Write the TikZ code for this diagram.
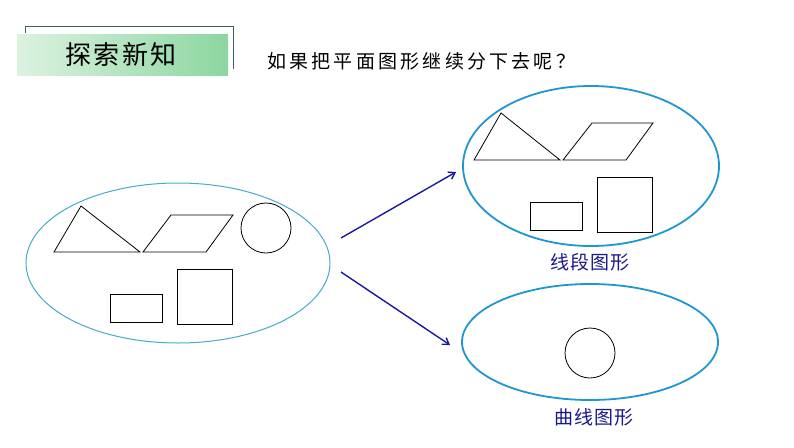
\documentclass[tikz,border=0pt]{standalone}
\usepackage{fontspec}
\setmainfont{Noto Sans CJK SC}
\usetikzlibrary{arrows.meta,shapes.geometric}
\definecolor{ellA}{RGB}{70,170,200}
\definecolor{ellB}{RGB}{30,150,210}
\definecolor{arrowblue}{RGB}{25,25,160}
\definecolor{labblue}{RGB}{25,25,140}
\definecolor{gLight}{RGB}{220,242,224}
\definecolor{gDark}{RGB}{140,214,160}
\definecolor{frameline}{RGB}{60,100,90}
\tikzset{
  figline/.style={draw=black, line width=0.8pt, line join=miter},
  ringA/.style={draw=ellA, line width=1pt},
  ringB/.style={draw=ellB, line width=1.8pt},
  conn/.style={draw=arrowblue, line width=1.4pt, -{Straight Barb[length=6pt,width=8pt]}},
  lab/.style={text=labblue, font=\fontsize{19}{19}\selectfont\addfontfeatures{LetterSpace=6}, inner sep=0pt},
}
\begin{document}
\begin{tikzpicture}[x=1pt,y=-1pt]
\useasboundingbox (0,0) rectangle (794,447);
% header
\draw[frameline, line width=0.9pt] (25,33) -- (25,26) -- (233,26) -- (233,69);
\shade[left color=gLight, right color=gDark] (17,34) rectangle (228,75);
\node[inner sep=0pt, font=\fontsize{26}{26}\selectfont\addfontfeatures{LetterSpace=8}] (title) at (121,55) {探索新知};
\node[inner sep=0pt, font=\fontsize{19}{19}\selectfont\addfontfeatures{LetterSpace=17}, anchor=west] (q) at (267,61) {如果把平面图形继续分下去呢？};
% left ellipse
\draw[ringA] (178,263) ellipse [x radius=152, y radius=80];
\draw[figline] (54,252) -- (81,206) -- (140,252) -- cycle;
\draw[figline] (143,252) -- (171,215) -- (233,215) -- (206,252) -- cycle;
\draw[figline] (266,228) circle [radius=25];
\draw[figline] (110,294) rectangle (162,322);
\draw[figline] (177,269) rectangle (232,324);
% upper right ellipse
\draw[ringB] (591,166) ellipse [x radius=128, y radius=80];
\draw[figline] (474,160) -- (501,113) -- (560,160) -- cycle;
\draw[figline] (563,160) -- (592,123) -- (653,123) -- (626,160) -- cycle;
\draw[figline] (530,202) rectangle (582,230);
\draw[figline] (597,177) rectangle (652,232);
\node[lab] (l1) at (590,262) {线段图形};
% lower right ellipse
\draw[ringB] (590,342) ellipse [x radius=128, y radius=58];
\draw[figline] (590,353) circle [radius=25];
\node[lab] (l2) at (594,417) {曲线图形};
% arrows
\coordinate (s1) at (341,238);
\coordinate (e1) at (456,172);
\coordinate (s2) at (341,272);
\coordinate (e2) at (450,345);
\draw[conn] (s1) -- (e1);
\draw[conn] (s2) -- (e2);
\end{tikzpicture}
\end{document}
